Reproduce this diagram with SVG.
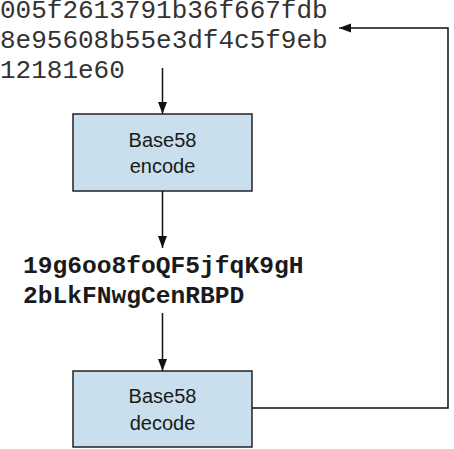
<svg xmlns="http://www.w3.org/2000/svg" width="454" height="449" viewBox="0 0 454 449">
<style>
.hex{font-family:"Liberation Mono",monospace;font-size:26px;fill:#333}
.b58{font-family:"Liberation Mono",monospace;font-size:24.6px;font-weight:bold;fill:#1a1a1a}
.box{fill:#c9dfed;stroke:#222;stroke-width:1.5}
.lbl{font-family:"Liberation Sans",Arial,sans-serif;font-size:20px;fill:#1a1a1a;text-anchor:middle}
.con{fill:none;stroke:#111;stroke-width:1.5}
</style>
<defs>
<marker id="ah" markerWidth="10" markerHeight="12" refX="12" refY="4.5" orient="auto" markerUnits="userSpaceOnUse">
<path d="M0,0 L12,4.5 L0,9 Z" fill="#111"/>
</marker>
</defs>
<g id="hex-input">
<text class="hex" x="0" y="18">005f2613791b36f667fdb</text>
<text class="hex" x="0" y="48">8e95608b55e3df4c5f9eb</text>
<text class="hex" x="0" y="78">12181e60</text>
</g>
<g id="encode">
<rect class="box" x="73" y="114" width="179" height="77"/>
<text class="lbl" x="162.5" y="147">Base58</text>
<text class="lbl" x="162.5" y="173">encode</text>
</g>
<g id="b58-output">
<text class="b58" x="23" y="273">19g6oo8foQF5jfqK9gH</text>
<text class="b58" x="23" y="303">2bLkFNwgCenRBPD</text>
</g>
<g id="decode">
<rect class="box" x="73" y="371" width="179" height="76"/>
<text class="lbl" x="162.5" y="403">Base58</text>
<text class="lbl" x="162.5" y="430">decode</text>
</g>
<g id="connectors">
<line class="con" x1="162.5" y1="68" x2="162.5" y2="114" marker-end="url(#ah)"/>
<line class="con" x1="162.5" y1="191" x2="162.5" y2="248" marker-end="url(#ah)"/>
<line class="con" x1="162.5" y1="313" x2="162.5" y2="371" marker-end="url(#ah)"/>
<polyline class="con" points="252,408 448,408 448,28 339,28" marker-end="url(#ah)"/>
</g>
</svg>
